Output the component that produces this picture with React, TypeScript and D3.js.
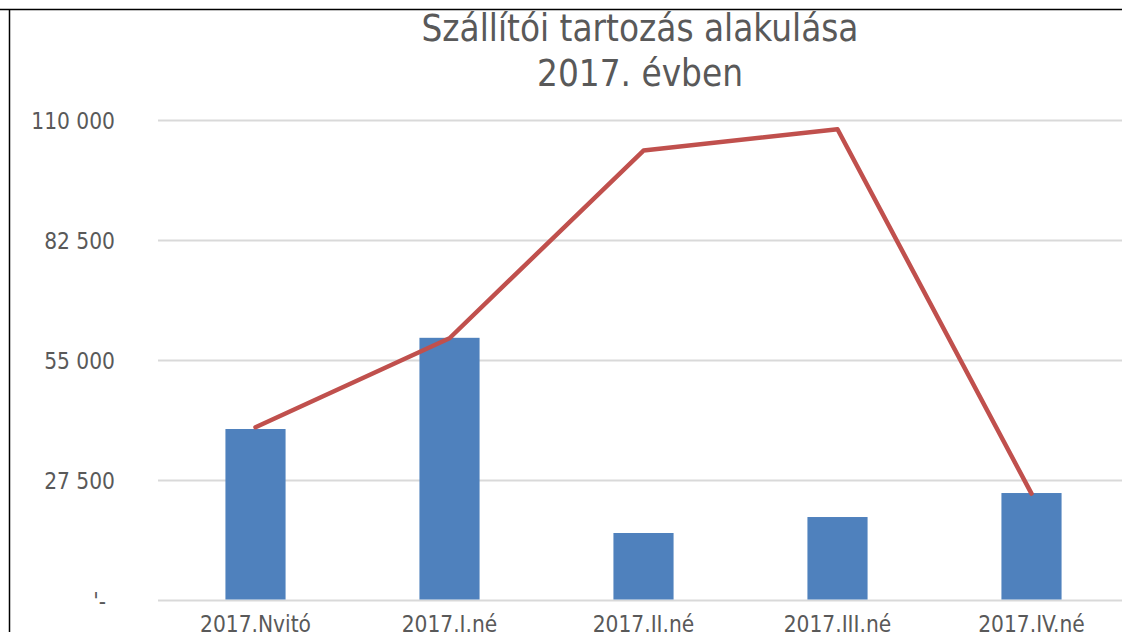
import React from "react";
import * as d3 from "d3";

const categories = ["2017.Nvitó", "2017.I.né", "2017.II.né", "2017.III.né", "2017.IV.né"];
const barValues = [39300, 60200, 15470, 19130, 24630];
const lineValues = [39700, 60100, 103100, 108000, 24500];
const yTicks = [0, 27500, 55000, 82500, 110000];
const yTickLabels = ["'-", "27 500", "55 000", "82 500", "110 000"];
const titleLines = ["Szállítói tartozás alakulása", "2017. évben"];

const W = 1122;
const H = 632;
const FONT = "'DejaVu Sans Condensed', 'DejaVu Sans', sans-serif";
const TEXT = "#595959";

export default function App() {
  const x = d3
    .scaleBand<string>()
    .domain(categories)
    .range([158.5, 1128.5])
    .paddingInner(0.69)
    .paddingOuter(0.345);
  const y = d3.scaleLinear().domain([0, 110000]).range([600.5, 120.5]);
  const cx = (c: string) => (x(c) as number) + x.bandwidth() / 2;
  const line = d3
    .line<number>()
    .x((_, i) => cx(categories[i]))
    .y((d) => y(d));

  return (
    <div style={{ position: "absolute", left: 0, top: 0 }}>
      <svg width={W} height={H} style={{ display: "block", background: "#fff" }}>
        <rect x={0} y={0} width={W} height={H} fill="#fff" />
        {yTicks.map((t, i) => (
          <g key={t}>
            <line x1={158} x2={W} y1={y(t)} y2={y(t)} stroke="#D9D9D9" strokeWidth={2} />
            <text
              x={i === 0 ? 106 : 115}
              y={y(t)}
              textAnchor="end"
              dominantBaseline="central"
              fontFamily={FONT}
              fontSize={22.5}
              fill={TEXT}
            >
              {yTickLabels[i]}
            </text>
          </g>
        ))}
        {categories.map((c, i) => (
          <rect
            key={c}
            x={x(c)}
            y={y(barValues[i])}
            width={x.bandwidth()}
            height={y(0) - y(barValues[i]) - 1}
            fill="#4F81BD"
          />
        ))}
        <path
          d={line(lineValues) as string}
          fill="none"
          stroke="#C0504D"
          strokeWidth={4.5}
          strokeLinecap="round"
          strokeLinejoin="round"
        />
        {categories.map((c) => (
          <text
            key={c}
            x={cx(c)}
            y={632}
            textAnchor="middle"
            fontFamily={FONT}
            fontSize={22.5}
            fill={TEXT}
          >
            {c}
          </text>
        ))}
        {titleLines.map((t, i) => (
          <text
            key={t}
            x={640}
            y={41 + i * 45}
            textAnchor="middle"
            fontFamily={FONT}
            fontSize={36.5}
            fill={TEXT}
          >
            {t}
          </text>
        ))}
        <line x1={0} x2={W} y1={9.5} y2={9.5} stroke="#000" strokeWidth={1.5} />
        <line x1={9.5} x2={9.5} y1={9} y2={H} stroke="#000" strokeWidth={1.5} />
      </svg>
    </div>
  );
}
